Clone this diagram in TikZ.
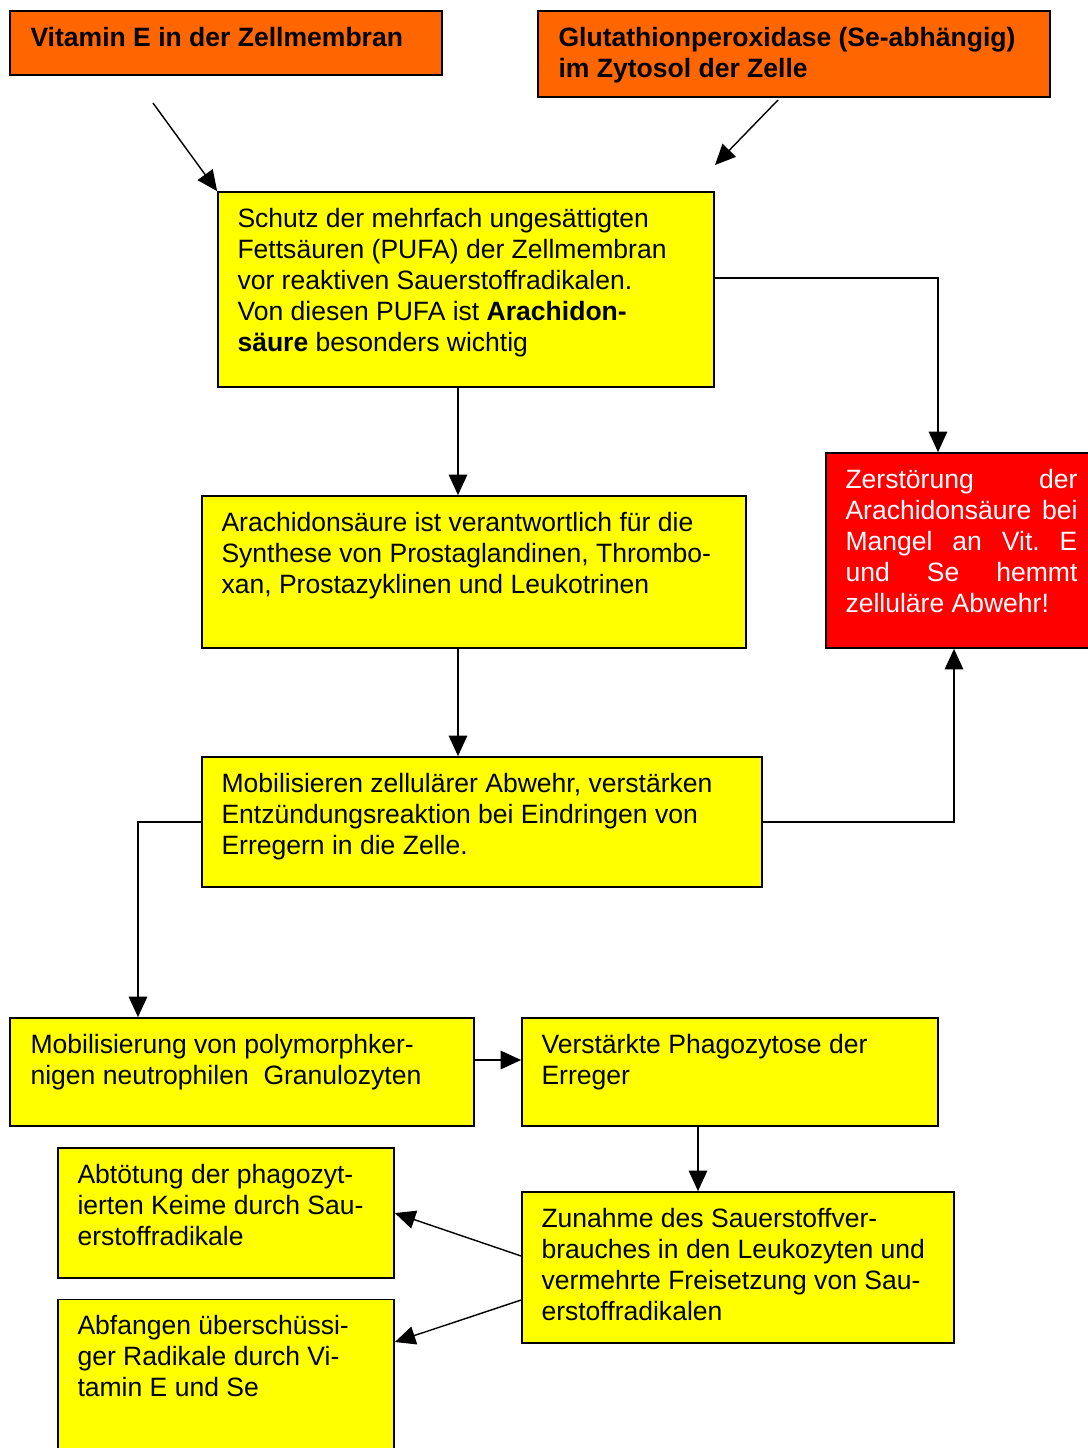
\documentclass[tikz,border=0pt]{standalone}
\usepackage{xcolor}
\usepackage{fontspec}
\setmainfont{Liberation Sans}
\usepackage{tikz}
\usetikzlibrary{shapes, arrows.meta, positioning}

\definecolor{boxorange}{HTML}{FF6600}
\definecolor{boxyellow}{HTML}{FFFF00}
\definecolor{boxred}{HTML}{FF0000}
\newcommand{\boxfont}{\fontsize{15.1}{17.64}\selectfont\frenchspacing}

\begin{document}
\begin{tikzpicture}
  [
    x=0.02cm, y=-0.02cm,
    Orange/.style={rectangle, draw=black, fill=boxorange, line width=1pt, inner sep=0pt},
    Yellow/.style={rectangle, draw=black, fill=boxyellow, line width=1pt, inner sep=0pt},
    Red/.style={rectangle, draw=black, fill=boxred, line width=1pt, inner sep=0pt},
    Text/.style={anchor=north west, inner sep=0pt, align=left, font=\boxfont},
    Arrow/.style={-{Triangle[length=0.41cm, width=0.37cm]}, line width=0.8pt}
  ]
  \useasboundingbox (0,0) rectangle (1088,1448);

  % Boxes (center x, y in pixels)
  \node[Orange, minimum width=8.64cm, minimum height=1.28cm] (vit) at (226,43) {};
  \node[Orange, minimum width=10.24cm, minimum height=1.72cm] (gpx) at (794,54) {};
  \node[Yellow, minimum width=9.92cm, minimum height=3.9cm] (schutz) at (466,289.5) {};
  \node[Yellow, minimum width=10.88cm, minimum height=3.04cm] (ara) at (474,572) {};
  \node[Red, minimum width=5.4cm, minimum height=3.9cm] (zer) at (961,550.5) {};
  \node[Yellow, minimum width=11.2cm, minimum height=2.6cm] (mob) at (482,822) {};
  \node[Yellow, minimum width=9.28cm, minimum height=2.16cm] (granu) at (242,1072) {};
  \node[Yellow, minimum width=8.32cm, minimum height=2.16cm] (phago) at (730,1072) {};
  \node[Yellow, minimum width=6.72cm, minimum height=2.6cm] (abt) at (226,1213) {};
  \node[Yellow, minimum width=8.64cm, minimum height=3.02cm] (zun) at (738,1267.5) {};
  \node[Yellow, minimum width=6.72cm, minimum height=3.3cm] (abf) at (226,1382) {};

  % Texts
  \node[Text] (vitText) at ([shift={(21,14)}]vit.north west)
    {\strut\textbf{Vitamin E in der Zellmembran}};
  \node[Text] (gpxText) at ([shift={(21,14)}]gpx.north west)
    {\strut\textbf{Glutathionperoxidase (Se-abhängig)}\\\textbf{im Zytosol der Zelle}};
  \node[Text] (schutzText) at ([shift={(20,14)}]schutz.north west)
    {\strut Schutz der mehrfach ungesättigten\\Fettsäuren (PUFA) der Zellmembran\\vor reaktiven Sauerstoffradikalen.\\Von diesen PUFA ist \textbf{Arachidon-}\\\textbf{säure} besonders wichtig};
  \node[Text] (araText) at ([shift={(20,14)}]ara.north west)
    {\strut Arachidonsäure ist verantwortlich für die\\Synthese von Prostaglandinen, Thrombo-\\xan, Prostazyklinen und Leukotrinen};
  \node[Text, text=white] (zerText) at ([shift={(20,14)}]zer.north west)
    {\strut\makebox[4.64cm][s]{Zerstörung der}\\\makebox[4.64cm][s]{Arachidonsäure bei}\\\makebox[4.64cm][s]{Mangel an Vit. E}\\\makebox[4.64cm][s]{und Se hemmt}\\zelluläre Abwehr!};
  \node[Text] (mobText) at ([shift={(20,14)}]mob.north west)
    {\strut Mobilisieren zellulärer Abwehr, verstärken\\Entzündungsreaktion bei Eindringen von\\Erregern in die Zelle.};
  \node[Text] (granuText) at ([shift={(21,14)}]granu.north west)
    {\strut Mobilisierung von polymorphker-\\nigen neutrophilen\ \ Granulozyten};
  \node[Text] (phagoText) at ([shift={(20,14)}]phago.north west)
    {\strut Verstärkte Phagozytose der\\Erreger};
  \node[Text] (abtText) at ([shift={(20,14)}]abt.north west)
    {\strut Abtötung der phagozyt-\\ierten Keime durch Sau-\\erstoffradikale};
  \node[Text] (zunText) at ([shift={(20,14)}]zun.north west)
    {\strut Zunahme des Sauerstoffver-\\brauches in den Leukozyten und\\vermehrte Freisetzung von Sau-\\erstoffradikalen};
  \node[Text] (abfText) at ([shift={(20,14)}]abf.north west)
    {\strut Abfangen überschüssi-\\ger Radikale durch Vi-\\tamin E und Se};

  % Free arrow ends
  \coordinate (vitStart) at (153,103);
  \coordinate (gpxStart) at (778,100);
  \coordinate (gpxEnd) at (715,165);

  % Lines
  % Vitamin E -> Schutz
  \path [draw, Arrow] (vitStart) -- (schutz.north west);
  % Glutathionperoxidase -> Schutz
  \path [draw, Arrow] (gpxStart) -- (gpxEnd);
  % Schutz -> Zerstoerung
  \path [draw, Arrow] (schutz.east |- 0,278) -| (zer.north -| 938,0);
  % Schutz -> Arachidonsaeure
  \path [draw, Arrow] (schutz.south -| 458,0) -- (ara.north -| 458,0);
  % Arachidonsaeure -> Mobilisieren
  \path [draw, Arrow] (ara.south -| 458,0) -- (mob.north -| 458,0);
  % Mobilisieren -> Zerstoerung
  \path [draw, Arrow] (mob.east) -| (zer.south -| 954,0);
  % Mobilisieren -> Granulozyten
  \path [draw, Arrow] (mob.west) -| (granu.north -| 138,0);
  % Granulozyten -> Phagozytose
  \path [draw, Arrow] (granu.east |- 0,1060) -- (phago.west |- 0,1060);
  % Phagozytose -> Zunahme
  \path [draw, Arrow] (phago.south -| 698,0) -- (zun.north -| 698,0);
  % Zunahme -> Abtoetung
  \path [draw, Arrow] (zun.west |- 0,1256) -- (abt.east |- 0,1213);
  % Zunahme -> Abfangen
  \path [draw, Arrow] (zun.west |- 0,1300) -- (abf.east |- 0,1342);

\end{tikzpicture}
\end{document}
